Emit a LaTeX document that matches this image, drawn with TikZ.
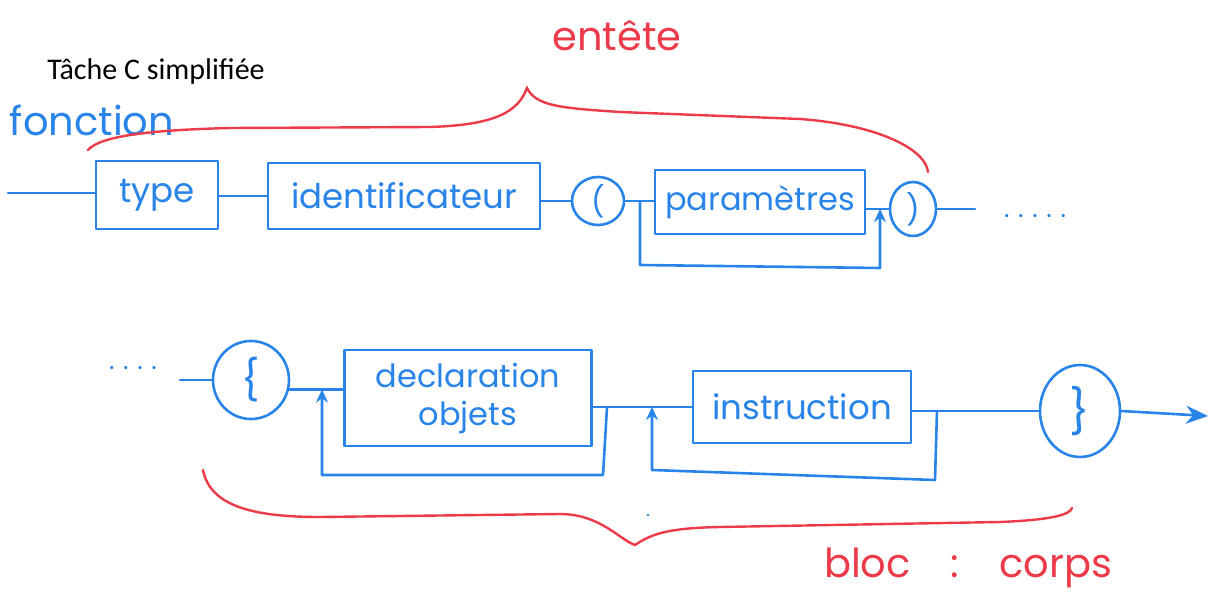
\documentclass[tikz,border=0pt]{standalone}
\usepackage{fontspec}
\setmainfont{Carlito}
\newfontfamily\handfont{Poppins}
\usetikzlibrary{arrows.meta,shapes.geometric}
\definecolor{penblue}{RGB}{40,132,232}
\definecolor{penred}{RGB}{236,58,72}
\tikzset{
  ink/.style={draw=penblue, line width=2.6pt, line cap=round, line join=round},
  term/.style={ink, rectangle, inner sep=0pt, text=penblue,
               font=\handfont\fontsize{34}{38}\selectfont},
  sym/.style={ink, ellipse, inner sep=0pt, text=penblue,
              font=\handfont\fontsize{30}{32}\selectfont},
  wire/.style={ink},
  loop/.style={ink, -{Stealth[length=13pt,width=12pt]}},
  brace/.style={draw=penred, line width=2.4pt, line cap=round},
  redlabel/.style={text=penred, font=\handfont\fontsize{40}{44}\selectfont},
  bluelabel/.style={text=penblue, font=\handfont\fontsize{40}{44}\selectfont},
  dots/.style={text=penblue, font=\handfont\fontsize{26}{28}\selectfont},
}
\begin{document}
\begin{tikzpicture}[x=1pt, y=-1pt]
\useasboundingbox (0,0) rectangle (1215,604);

% title and hand-written labels
\node[font=\fontsize{30}{34}\selectfont] (title) at (156,72) {Tâche C simplifiée};
\node[redlabel] (entete) at (617,36) {entête};
\node[bluelabel] (fonction) at (92,120) {fonction};
\node[redlabel] (corps) at (968,568) {bloc\quad:\quad corps};

% ---- header row ----
\coordinate (start) at (8,193);
\node[term, minimum width=122pt, minimum height=68pt] (type) at (157,195) {type};
\node[term, minimum width=272pt, minimum height=66pt] (ident) at (404,196) {identificateur};
\node[sym, minimum width=52pt, minimum height=48pt] (lpar) at (598,201) {(};
\node[term, minimum width=210pt, minimum height=64pt,
      font=\handfont\fontsize{32}{36}\selectfont] (param) at (760,202) {paramètres};
\node[sym, minimum width=46pt, minimum height=54pt] (rpar) at (913,209) {)};
\coordinate (out1) at (975,209);
\node[dots] (more1) at (1035,216) {.\,\,.\,\,.\,\,.\,\,.};

\draw[wire] (start) -- (type.west |- start);
\draw[wire] (type.east |- ident.west) -- (ident.west);
\draw[wire] (ident.east |- lpar.west) -- (lpar.west);
\draw[wire] (lpar.east) -- (param.west |- lpar.east);
\draw[wire] (param.east |- rpar.west) -- (rpar.west);
\draw[wire] (rpar.east) -- (out1);

% optional parameter list: bypass
\coordinate (pin) at (640,201);
\coordinate (pout) at (880,209);
\draw[loop] (pin) -- (640,265) -- (880,268) -- (pout);

% ---- body row ----
\node[dots] (more2) at (133,368) {.\,\,.\,\,.\,\,.};
\coordinate (start2) at (180,380);
\node[sym, minimum width=76pt, minimum height=78pt,
      font=\handfont\fontsize{40}{44}\selectfont] (lbrace) at (251,380) {\{};
\node[term, minimum width=247pt, minimum height=96pt, align=center,
      font=\handfont\fontsize{32}{38}\selectfont] (decl) at (468,398) {declaration\\objets};
\node[term, minimum width=218pt, minimum height=72pt] (instr) at (802,407) {instruction};
\node[sym, minimum width=80pt, minimum height=92pt,
      font=\handfont\fontsize{44}{48}\selectfont] (rbrace) at (1080,411) {\}};
\coordinate (end) at (1208,416);

\draw[wire] (start2) -- (lbrace.west);
\draw[wire] (lbrace.-14) -- (decl.west |- lbrace.-14);
\draw[wire] (decl.east |- instr.west) -- (instr.west);
\draw[wire] (instr.east |- rbrace.west) -- (rbrace.west);
\draw[ink, -{Stealth[length=22pt,width=18pt]}] (rbrace.east) -- (end);

% repetition of declarations
\coordinate (dx) at (322,0);
\coordinate (din) at (lbrace.-14 -| dx);
\coordinate (dout) at (607,407);
\draw[loop] (dout) -- (603,475) -- (322,475) -- (din);

% repetition of instructions
\coordinate (iout) at (937,411);
\coordinate (iin) at (652,407);
\draw[loop] (iout) -- (935,480) -- (652,470) -- (iin);

\fill[penblue] (648,515) circle (1.3pt);

% braces grouping header and body
\draw[brace] (88,150) .. controls (100,136) and (150,130) .. (230,128)
  -- (430,127) .. controls (495,125) and (518,112) .. (527,88)
  .. controls (536,106) and (560,108) .. (620,112)
  -- (800,119) .. controls (880,125) and (926,150) .. (928,172);
\draw[brace] (203,470) .. controls (210,505) and (250,517) .. (320,517)
  -- (560,514) .. controls (600,514) and (620,540) .. (635,545)
  .. controls (650,535) and (665,528) .. (720,527)
  -- (1000,522) .. controls (1050,520) and (1070,515) .. (1072,508);
\end{tikzpicture}
\end{document}
